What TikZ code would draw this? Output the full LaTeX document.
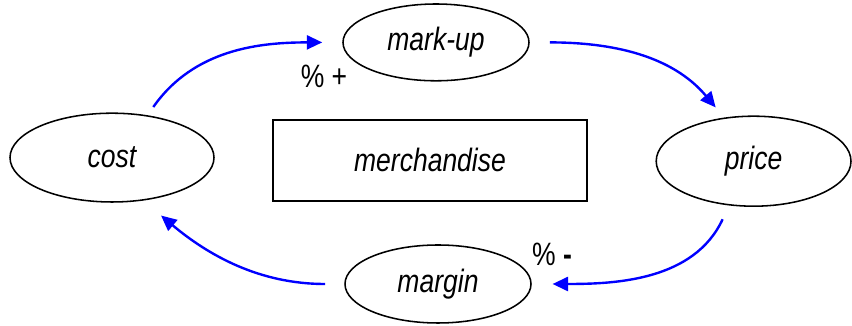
\documentclass[tikz,border=0pt]{standalone}
\usepackage{fontspec}
\setmainfont{Liberation Sans}[FakeStretch=0.82]
\usetikzlibrary{positioning, arrows.meta, shapes}

\begin{document}
\begin{tikzpicture}[
	every node/.style={font=\fontsize{23}{27}\selectfont},
	oval/.style={ellipse, draw, line width=1.1pt, inner sep=0pt, text centered, font=\fontsize{23}{27}\selectfont\itshape},
	flow/.style={draw=blue, line width=1.7pt, -{Triangle[length=11pt, width=10pt]}}]
		
		\useasboundingbox (0,0) rectangle (21.3,8.15);
		
		%Nodi del ciclo dei prezzi
		\node (cost) at (2.8,4.21) [oval, minimum width=5.1cm, minimum height=2.22cm] {cost};
		
		\node (markUp) at (10.9,7.09) [oval, minimum width=4.65cm, minimum height=1.92cm] {mark-up};
		
		\node (price) at (18.84,4.12) [oval, minimum width=4.87cm, minimum height=2.25cm] {price};
		
		\node (margin) at (10.95,1.05) [oval, minimum width=4.65cm, minimum height=1.95cm] {margin};
		
		\node (merchandise) at (10.75,4.14) [rectangle, draw, line width=1.1pt, minimum width=7.85cm, 
		minimum height=2.02cm, font=\fontsize{23}{27}\selectfont\itshape] {merchandise};
		
		\node (plusLabel) at (8.1,6.25) {\% +};
		
		\node (minusLabel) at (13.8,1.78) {\% \textbf{-}};
		
		\draw[flow, shorten <=0.25cm, shorten >=0.5cm] (cost.50) to [out=55, in=180] (markUp.west);
		\draw[flow, shorten <=0.5cm, shorten >=0.33cm] (markUp.east) to [out=0, in=130] (price.124);
		\draw[flow, shorten <=0.38cm, shorten >=0.52cm] (price.241) to [out=245, in=0] (margin.east);
		\draw[flow, shorten <=0.48cm, shorten >=0.58cm] (margin.west) to [out=180, in=-40] (cost.306);
		
		\end{tikzpicture}
\end{document}
